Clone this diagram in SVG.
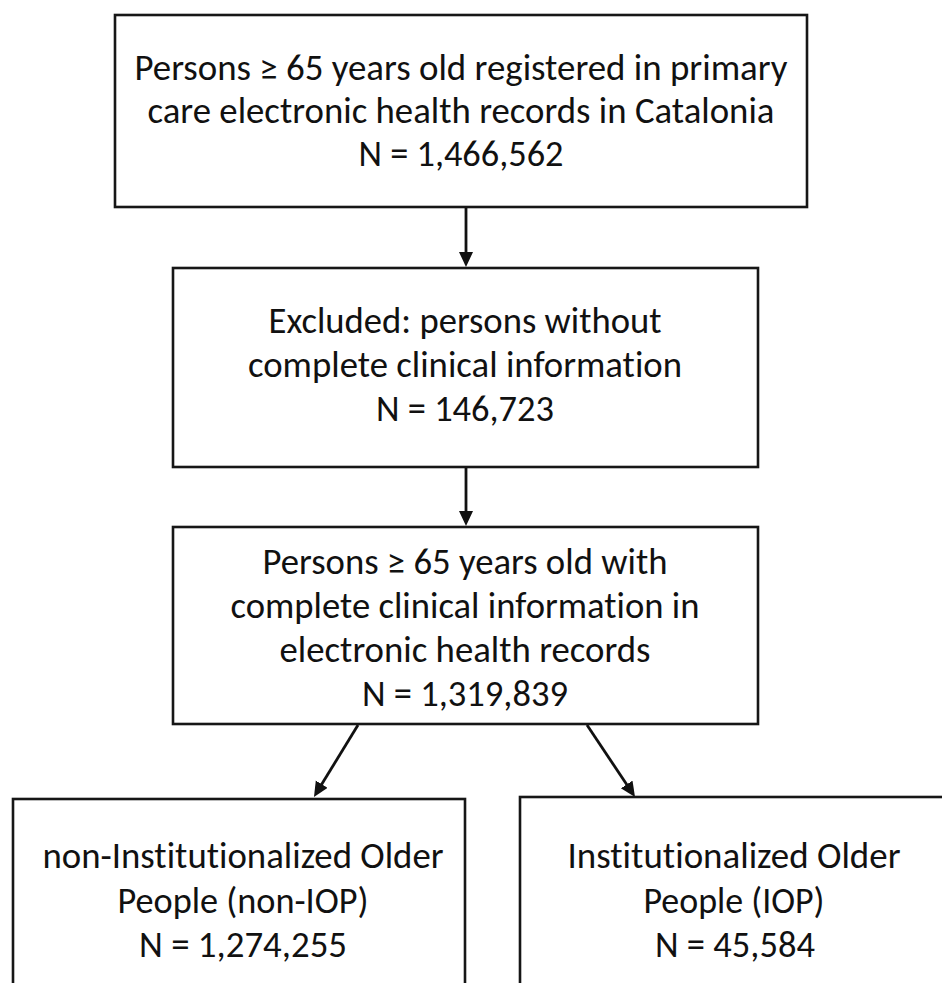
<svg xmlns="http://www.w3.org/2000/svg" width="942" height="983" viewBox="0 0 942 983">
<style>
.box{fill:#fff;stroke:#161616;stroke-width:2.6}
.t{font-family:Carlito,Calibri,Lato,"Liberation Sans",sans-serif;font-size:36px;fill:#111;text-anchor:middle;font-variant-ligatures:none;font-feature-settings:"liga" 0}
.c{stroke:#111;stroke-width:2.8;fill:none;marker-end:url(#ah)}
</style>
<defs>
<marker id="ah" markerUnits="userSpaceOnUse" markerWidth="17" markerHeight="15" refX="4" refY="7" orient="auto">
<path d="M0,0 L15,7 L0,14 z" fill="#111"/>
</marker>
</defs>
<rect width="942" height="983" fill="#fff"/>
<g id="connectors">
<line class="c" x1="466" y1="208" x2="466" y2="256"/>
<line class="c" x1="466" y1="468" x2="466" y2="515"/>
<line class="c" x1="358" y1="725" x2="319.7" y2="787.6"/>
<line class="c" x1="587" y1="725" x2="628.9" y2="787.8"/>
</g>
<g id="n1">
<rect class="box" x="115" y="15" width="692" height="192"/>
<text class="t" x="461" y="80" textLength="653" lengthAdjust="spacingAndGlyphs">Persons ≥ 65 years old registered in primary</text>
<text class="t" x="461" y="123" textLength="627" lengthAdjust="spacingAndGlyphs">care electronic health records in Catalonia</text>
<text class="t" x="461" y="166" textLength="205" lengthAdjust="spacingAndGlyphs">N = 1,466,562</text>
</g>
<g id="n2">
<rect class="box" x="173" y="268" width="585" height="199"/>
<text class="t" x="465" y="333" textLength="393" lengthAdjust="spacingAndGlyphs">Excluded: persons without</text>
<text class="t" x="465" y="377" textLength="434" lengthAdjust="spacingAndGlyphs">complete clinical information</text>
<text class="t" x="465" y="421" textLength="178" lengthAdjust="spacingAndGlyphs">N = 146,723</text>
</g>
<g id="n3">
<rect class="box" x="173" y="527" width="585" height="197"/>
<text class="t" x="465" y="574" textLength="405" lengthAdjust="spacingAndGlyphs">Persons ≥ 65 years old with</text>
<text class="t" x="465" y="618" textLength="469" lengthAdjust="spacingAndGlyphs">complete clinical information in</text>
<text class="t" x="465" y="662" textLength="371" lengthAdjust="spacingAndGlyphs">electronic health records</text>
<text class="t" x="465" y="706" textLength="206" lengthAdjust="spacingAndGlyphs">N = 1,319,839</text>
</g>
<g id="n4">
<rect class="box" x="13" y="799" width="452" height="200"/>
<text class="t" x="243" y="868" textLength="401" lengthAdjust="spacingAndGlyphs">non-Institutionalized Older</text>
<text class="t" x="243" y="913" textLength="251" lengthAdjust="spacingAndGlyphs">People (non-IOP)</text>
<text class="t" x="243" y="957" textLength="208" lengthAdjust="spacingAndGlyphs">N = 1,274,255</text>
</g>
<g id="n5">
<rect class="box" x="520" y="797" width="430" height="202"/>
<text class="t" x="734" y="868" textLength="333" lengthAdjust="spacingAndGlyphs">Institutionalized Older</text>
<text class="t" x="734" y="913" textLength="181" lengthAdjust="spacingAndGlyphs">People (IOP)</text>
<text class="t" x="735" y="957" textLength="160" lengthAdjust="spacingAndGlyphs">N = 45,584</text>
</g>
</svg>
